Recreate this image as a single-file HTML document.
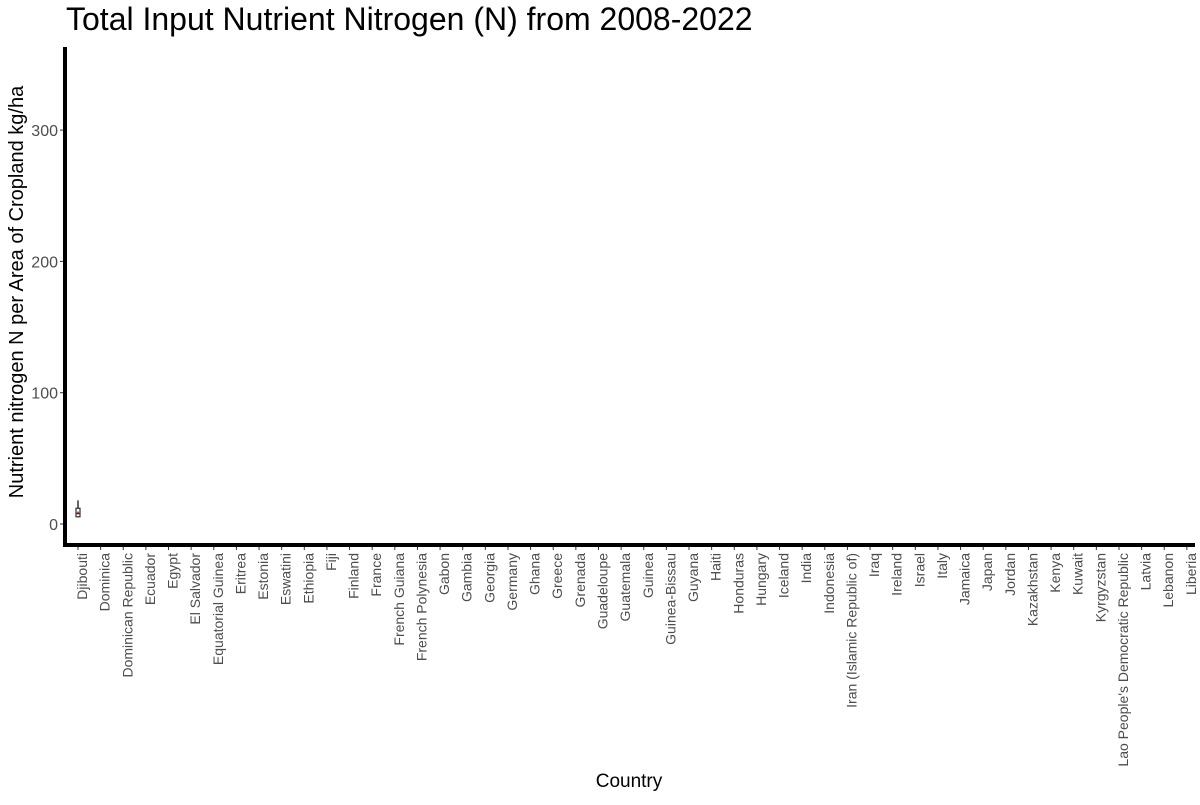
<!DOCTYPE html>
<html><head><meta charset="utf-8"><style>
body{margin:0;background:#fff;font-family:"Liberation Sans",Arial,sans-serif}
</style></head><body>
<svg id="chart" width="1200" height="800" xmlns="http://www.w3.org/2000/svg" font-family="Liberation Sans, Arial, sans-serif">
<text x="66" y="30" font-size="32" fill="#000">Total Input Nutrient Nitrogen (N) from 2008-2022</text>
<text transform="translate(23,292) rotate(-90)" text-anchor="middle" font-size="20" fill="#000">Nutrient nitrogen N per Area of Cropland kg/ha</text>
<text x="629" y="787" text-anchor="middle" font-size="19" fill="#000">Country</text>
<g id="marks"></g>
<line x1="65" y1="47" x2="65" y2="546" stroke="#000" stroke-width="4"/>
<line x1="63" y1="545" x2="1195" y2="545" stroke="#000" stroke-width="4"/>
</svg>
<script>
const categories=["Djibouti","Dominica","Dominican Republic","Ecuador","Egypt","El Salvador","Equatorial Guinea","Eritrea","Estonia","Eswatini","Ethiopia","Fiji","Finland","France","French Guiana","French Polynesia","Gabon","Gambia","Georgia","Germany","Ghana","Greece","Grenada","Guadeloupe","Guatemala","Guinea","Guinea-Bissau","Guyana","Haiti","Honduras","Hungary","Iceland","India","Indonesia","Iran (Islamic Republic of)","Iraq","Ireland","Israel","Italy","Jamaica","Japan","Jordan","Kazakhstan","Kenya","Kuwait","Kyrgyzstan","Lao People's Democratic Republic","Latvia","Lebanon","Liberia"];
const yTicks=[0,100,200,300];
const boxMin=[5];
const boxQ1=[5.5];
const boxMedian=[8];
const boxQ3=[12];
const boxMax=[18];
const boxMean=[9];
const NS="http://www.w3.org/2000/svg";
const svg=document.getElementById('marks');
const x=i=>78+i*22.63;
const y=v=>524-v*1.313;
function mk(t,a){const e=document.createElementNS(NS,t);for(const k in a)e.setAttribute(k,a[k]);svg.appendChild(e);return e;}
yTicks.forEach(v=>{
 const l=mk('line',{x1:60,x2:64,y1:y(v),y2:y(v),stroke:'#333'});
 
 
 const t=mk('text',{x:58,y:y(v)+6,'text-anchor':'end','font-size':16,fill:'#4d4d4d'});
 t.textContent=v;
 
 
});
categories.forEach((c,i)=>{
 const l=mk('line',{x1:x(i),x2:x(i),y1:546,y2:550,stroke:'#333'});
 
 
 const t=mk('text',{transform:`translate(${x(i)+9},553) rotate(-90)`,'text-anchor':'end','font-size':14,fill:'#4d4d4d'});
 t.textContent=c;
 
 
});
boxMin.forEach((mn,i)=>{
 const cx=x(i);
 const w=mk('line',{x1:cx,x2:cx,y1:y(boxMax[i]),y2:y(mn),stroke:'#333','stroke-width':1.5});
 
 
 const b=mk('rect',{x:cx-2,y:y(boxQ3[i]),width:4,height:y(boxQ1[i])-y(boxQ3[i]),fill:'#fff',stroke:'#333','stroke-width':1.2});
 
 
 const m=mk('line',{x1:cx-2,x2:cx+2,y1:y(boxMedian[i]),y2:y(boxMedian[i]),stroke:'#333','stroke-width':1.5});
 
 
 const d=mk('circle',{cx:cx,cy:y(boxMean[i]),r:0.8,fill:'red'});
 
 
});
</script>
</body></html>
